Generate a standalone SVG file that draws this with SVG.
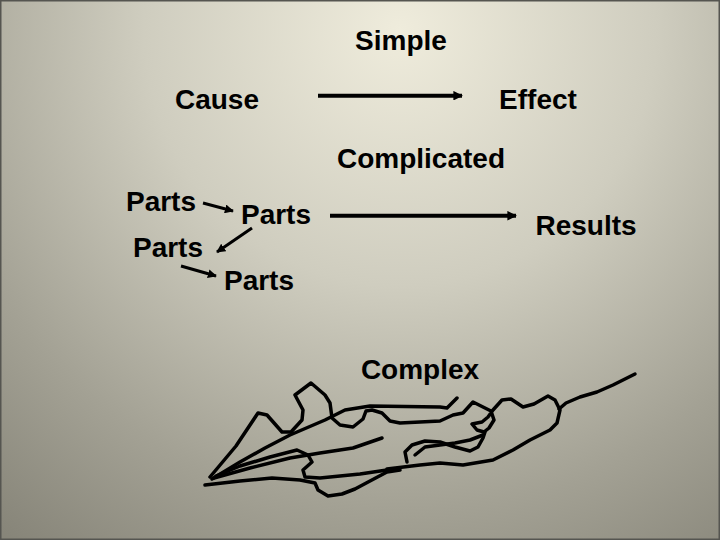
<svg xmlns="http://www.w3.org/2000/svg" width="720" height="540" viewBox="0 0 720 540">
  <defs>
    <radialGradient id="bg" gradientUnits="userSpaceOnUse" cx="400" cy="30" r="640">
      <stop offset="0" stop-color="#efecdc"/>
      <stop offset="0.4" stop-color="#cfcdbf"/>
      <stop offset="0.75" stop-color="#a3a194"/>
      <stop offset="1" stop-color="#878579"/>
    </radialGradient>
    <marker id="ah" viewBox="0 0 10 10" refX="9" refY="5" markerWidth="2.4" markerHeight="2.4" orient="auto" markerUnits="strokeWidth">
      <path d="M0,0 L10,5 L0,10 z" fill="#000"/>
    </marker>
    <marker id="ahs" viewBox="0 0 10 10" refX="9" refY="5" markerWidth="3" markerHeight="3" orient="auto" markerUnits="strokeWidth">
      <path d="M0,0 L10,5 L0,10 z" fill="#000"/>
    </marker>
    <style>
      .t { font-family: "Liberation Sans", Arial, sans-serif; font-weight: bold; font-size: 28px; fill: #000; text-anchor: middle; }
      .big { stroke: #000; stroke-width: 4; fill: none; marker-end: url(#ah); }
      .sm { stroke: #000; stroke-width: 3; fill: none; marker-end: url(#ahs); }
      .sc { stroke: #000; stroke-width: 3.5; fill: none; stroke-linejoin: round; stroke-linecap: round; }
    </style>
  </defs>
  <rect x="0" y="0" width="720" height="540" fill="url(#bg)"/>
  <rect x="0.75" y="0.75" width="718.5" height="538.5" fill="none" stroke="#555550" stroke-width="1.5"/>

  <g id="title-simple"><text class="t" x="401" y="50">Simple</text></g>
  <g id="cause"><text class="t" x="217" y="109">Cause</text></g>
  <g id="effect"><text class="t" x="538" y="109">Effect</text></g>
  <g id="title-complicated"><text class="t" x="421" y="168">Complicated</text></g>
  <g id="parts1"><text class="t" x="161" y="211">Parts</text></g>
  <g id="parts2"><text class="t" x="276" y="224">Parts</text></g>
  <g id="parts3"><text class="t" x="168" y="257">Parts</text></g>
  <g id="parts4"><text class="t" x="259" y="290">Parts</text></g>
  <g id="results"><text class="t" x="586" y="235">Results</text></g>
  <g id="title-complex"><text class="t" x="420" y="379">Complex</text></g>

  <g id="connectors">
    <line class="big" x1="318" y1="95.7" x2="462" y2="95.7"/>
    <line class="big" x1="330" y1="215.7" x2="516" y2="215.7"/>
    <line class="sm" x1="203" y1="203" x2="233" y2="211"/>
    <line class="sm" x1="252" y1="228" x2="217" y2="252"/>
    <line class="sm" x1="181" y1="266" x2="216" y2="276"/>
  </g>

  <g id="complex-scribble">
    <path class="sc" d="M210,477 L236,446 L258,413 L267,415 L282,432 L291,432 L302,420 L303,410 L295,395 L311,383 L325,395 L330,403 L332,418 L340,425 L353,427 L363,419 L366,411 L372,410 L382,413 L390,421 L400,423 L440,421 L453,415 L463,413 L473,402 L491,411 L494,420 L489,428 L484,432 L477,430 L472,424 L482,422 L488,417 L493,410 L502,400 L511,399 L523,407 L534,404 L548,396 L555,400 L560,410 L557,423 L550,430 L530,440 L513,450 L493,460 L463,465 L440,463 L420,465 L387,469"/>
    <path class="sc" d="M559,409 L566,403 L580,397 L597,392 L613,385 L635,374"/>
    <path class="sc" d="M212,479 L240,462 L265,448 L290,435 L325,420 L345,410 L370,406 L440,407 L447,408 L457,398"/>
    <path class="sc" d="M214,478 L250,468 L290,458 L320,453 L353,448 L382,438"/>
    <path class="sc" d="M216,476 L240,466 L270,457 L297,450 L308,455 L312,462 L303,470 L305,477 L320,478 L360,474 L387,470"/>
    <path class="sc" d="M205,485 L240,481 L272,478 L300,480 L315,483 L318,490 L328,496 L342,494 L355,489 L370,481 L387,472 L400,470"/>
    <path class="sc" d="M407,462 L405,452 L412,445 L425,441 L440,442 L455,447 L470,451 L478,447 L483,438 L485,432"/>
    <path class="sc" d="M415,455 L425,447 L440,445 L455,443 L470,440 L483,435"/>
  </g>
</svg>
